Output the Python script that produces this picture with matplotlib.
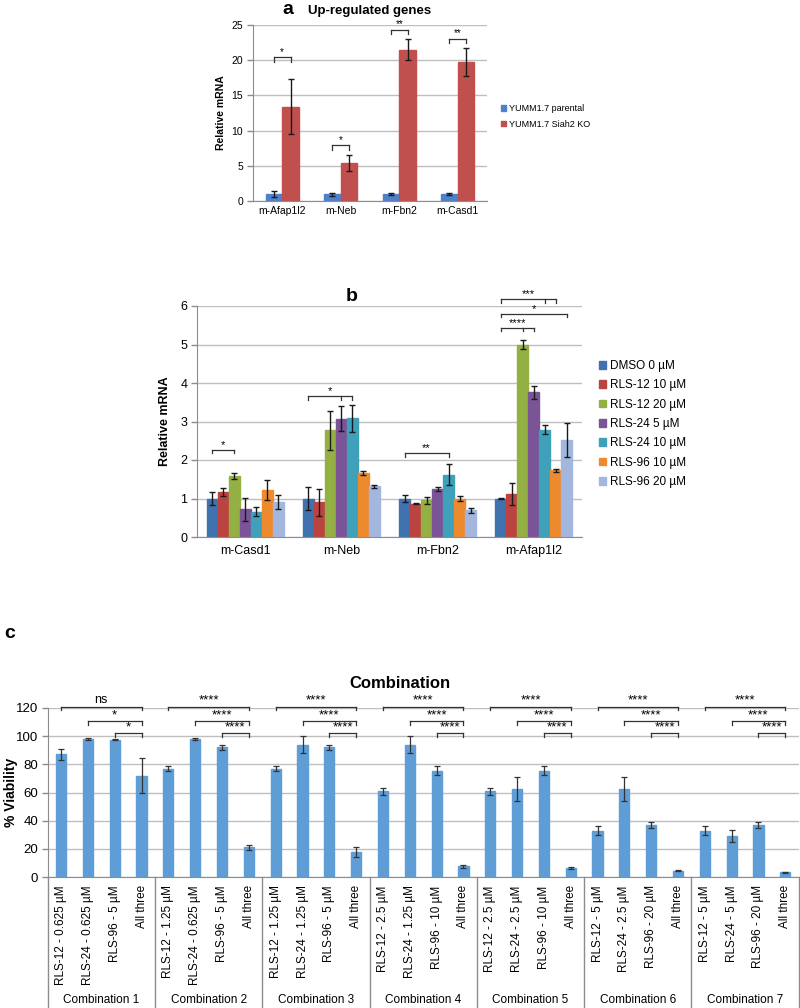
import matplotlib
matplotlib.use("Agg")
import matplotlib.pyplot as plt
from matplotlib.patches import Patch
from matplotlib.transforms import blended_transform_factory
import numpy as np

plt.rcParams['font.family'] = ['Liberation Sans', 'DejaVu Sans']

# ---- panel a data ----
genes_a = ['m-Afap1l2', 'm-Neb', 'm-Fbn2', 'm-Casd1']
parental = [1.0, 0.95, 1.0, 1.0]
parental_err = [0.4, 0.2, 0.15, 0.15]
siah2_ko = [13.4, 5.4, 21.5, 19.8]
siah2_ko_err = [3.9, 1.1, 1.5, 2.0]
sig_a_levels = [20.4, 7.9, 24.3, 23.0]
sig_a_text = ['*', '*', '**', '**']

# ---- panel b data ----
genes_b = ['m-Casd1', 'm-Neb', 'm-Fbn2', 'm-Afap1l2']
treatments = ['DMSO 0 µM', 'RLS-12 10 µM', 'RLS-12 20 µM', 'RLS-24 5 µM',
              'RLS-24 10 µM', 'RLS-96 10 µM', 'RLS-96 20 µM']
colors_b = ['#4172B0', '#BB4440', '#94B045', '#7A5496', '#3FA0B9', '#EE8A2E', '#A3B7DE']
# rows = treatment, columns = gene
vals_b = [
    [1.00, 1.00, 1.00, 1.00],
    [1.17, 0.90, 0.87, 1.12],
    [1.58, 2.77, 0.95, 5.00],
    [0.72, 3.07, 1.25, 3.76],
    [0.66, 3.08, 1.62, 2.79],
    [1.23, 1.66, 1.00, 1.73],
    [0.91, 1.32, 0.69, 2.52],
]
errs_b = [
    [0.17, 0.30, 0.08, 0.02],
    [0.10, 0.35, 0.01, 0.28],
    [0.07, 0.50, 0.10, 0.12],
    [0.30, 0.32, 0.06, 0.17],
    [0.12, 0.34, 0.28, 0.12],
    [0.26, 0.06, 0.06, 0.04],
    [0.18, 0.04, 0.07, 0.44],
]
# (gene index, bar indices with ticks, level, label)
sig_b = [
    (0, [0, 2], 2.27, '*'),
    (1, [0, 3, 4], 3.65, '*'),
    (2, [0, 4], 2.17, '**'),
    (3, [0, 2, 3], 5.42, '****'),
    (3, [0, 6], 5.80, '*'),
    (3, [0, 4, 5], 6.17, '***'),
]

# ---- panel c data ----
combos = ['Combination %d' % i for i in range(1, 8)]
drug_labels = [
    ['RLS-12 - 0.625 µM', 'RLS-24 - 0.625 µM', 'RLS-96 - 5 µM', 'All three'],
    ['RLS-12 - 1.25 µM', 'RLS-24 - 0.625 µM', 'RLS-96 - 5 µM', 'All three'],
    ['RLS-12 - 1.25 µM', 'RLS-24 - 1.25 µM', 'RLS-96 - 5 µM', 'All three'],
    ['RLS-12 - 2.5 µM', 'RLS-24 - 1.25 µM', 'RLS-96 - 10 µM', 'All three'],
    ['RLS-12 - 2.5 µM', 'RLS-24 - 2.5 µM', 'RLS-96 - 10 µM', 'All three'],
    ['RLS-12 - 5 µM', 'RLS-24 - 2.5 µM', 'RLS-96 - 20 µM', 'All three'],
    ['RLS-12 - 5 µM', 'RLS-24 - 5 µM', 'RLS-96 - 20 µM', 'All three'],
]
viability = [
    [87, 98, 97.5, 72],
    [77, 98, 92, 21],
    [77, 94, 92, 18],
    [61, 94, 75.5, 7.5],
    [61, 62.5, 75.5, 6.5],
    [33, 62.5, 37, 4.5],
    [33, 29, 37, 3.3],
]
viability_err = [
    [4, 0.5, 0.5, 12.5],
    [2, 0.5, 2, 2],
    [2, 6, 2, 3.5],
    [2.5, 6, 3, 0.8],
    [2.5, 8.5, 3, 0.8],
    [3, 8.5, 2, 0.5],
    [3, 4.5, 2, 0.5],
]
sig_c = [
    ['ns', '*', '*'],
    ['****', '****', '****'],
    ['****', '****', '****'],
    ['****', '****', '****'],
    ['****', '****', '****'],
    ['****', '****', '****'],
    ['****', '****', '****'],
]

GRID = '#BFBFBF'
AXC = '#8C8C8C'


def excel_style(ax):
    ax.set_axisbelow(True)
    ax.yaxis.grid(True, color=GRID, lw=1)
    for s in ['top', 'right']:
        ax.spines[s].set_visible(False)
    for s in ['left', 'bottom']:
        ax.spines[s].set_color(AXC)
    ax.tick_params(axis='y', length=4, color=AXC, width=1, pad=3)
    ax.tick_params(axis='x', length=0)


def bracket(ax, xs, y, drop, text, fs, tpad):
    x0, x1 = min(xs), max(xs)
    ax.plot([x0, x1], [y, y], color='#333333', lw=0.9, clip_on=False)
    for xt in xs:
        ax.plot([xt, xt], [y, y - drop], color='#333333', lw=0.9, clip_on=False)
    ax.text((x0 + x1) / 2, y + tpad, text, ha='center', va='bottom', fontsize=fs, clip_on=False)


fig = plt.figure(figsize=(8, 10.08), dpi=100)
H = 1008.0
W = 800.0

# ---------------- panel a ----------------
axa = fig.add_axes([253 / W, 1 - 201 / H, 234 / W, 176 / H])
excel_style(axa)
xa = np.arange(len(genes_a))
wa = 0.286
axa.bar(xa - wa / 2, parental, wa, color='#4F81C9', edgecolor='#4F81C9')
axa.bar(xa + wa / 2, siah2_ko, wa, color='#C0504D', edgecolor='#C0504D')
ekw = dict(fmt='none', ecolor='#1a1a1a', elinewidth=1, capsize=2.5, capthick=1)
axa.errorbar(xa - wa / 2, parental, yerr=parental_err, **ekw)
axa.errorbar(xa + wa / 2, siah2_ko, yerr=siah2_ko_err, **ekw)
axa.set_xlim(-0.5, 3.5)
axa.set_ylim(0, 25)
axa.set_yticks(range(0, 26, 5))
axa.set_xticks(xa)
axa.set_xticklabels(genes_a, fontsize=7.5)
axa.tick_params(axis='y', labelsize=7.5)
axa.set_ylabel('Relative mRNA', fontsize=7.5, fontweight='bold', labelpad=4)
axa.set_title('Up-regulated genes', fontsize=9.5, fontweight='bold', pad=8)
for i in range(len(genes_a)):
    bracket(axa, [i - wa / 2, i + wa / 2], sig_a_levels[i], 0.6, sig_a_text[i], 7, 0.1)
fig.legend(handles=[Patch(color='#4F81C9', label='YUMM1.7 parental'),
                    Patch(color='#C0504D', label='YUMM1.7 Siah2 KO')],
           loc='upper left', bbox_to_anchor=(501 / W, 1 - 104 / H), frameon=False,
           fontsize=6.5, handlelength=0.6, handleheight=0.6, handletextpad=0.3,
           labelspacing=0.75, borderaxespad=0, borderpad=0)
fig.text(288 / W, 1 - 10 / H, 'a', fontsize=14, fontweight='bold', ha='center', va='center')

# ---------------- panel b ----------------
axb = fig.add_axes([197 / W, 1 - 537 / H, 385 / W, 231 / H])
excel_style(axb)
xb = np.arange(len(genes_b))
nb = len(treatments)
wb = 0.8 / nb
offs = [(k - (nb - 1) / 2) * wb for k in range(nb)]
for k in range(nb):
    axb.bar(xb + offs[k], vals_b[k], wb, color=colors_b[k], edgecolor=colors_b[k], label=treatments[k])
    axb.errorbar(xb + offs[k], vals_b[k], yerr=errs_b[k], **ekw)
axb.set_xlim(-0.5, 3.5)
axb.set_ylim(0, 6)
axb.set_yticks(range(0, 7))
axb.set_xticks(xb)
axb.set_xticklabels(genes_b, fontsize=9)
axb.tick_params(axis='x', pad=6)
axb.tick_params(axis='y', labelsize=9)
axb.set_ylabel('Relative mRNA', fontsize=9, fontweight='bold', labelpad=7)
for g, bars, lvl, txt in sig_b:
    bracket(axb, [g + offs[b] for b in bars], lvl, 0.08, txt, 8, 0.0)
fig.legend([Patch(color=c) for c in colors_b], treatments,
           loc='upper left', bbox_to_anchor=(599 / W, 1 - 360 / H), frameon=False,
           fontsize=8.5, handlelength=0.6, handleheight=0.6, handletextpad=0.3,
           labelspacing=0.62, borderaxespad=0, borderpad=0)
fig.text(352 / W, 1 - 296 / H, 'b', fontsize=14, fontweight='bold', ha='center', va='center')

# ---------------- panel c ----------------
axc = fig.add_axes([47.7 / W, 1 - 877 / H, 751 / W, 169 / H])
excel_style(axc)
vals_c = [v for grp in viability for v in grp]
errs_c = [e for grp in viability_err for e in grp]
labels_c = [l for grp in drug_labels for l in grp]
xc = np.arange(len(vals_c))
axc.bar(xc, vals_c, 0.38, color='#5E9DD6', edgecolor='#5E9DD6')
axc.errorbar(xc, vals_c, yerr=errs_c, fmt='none', ecolor='#333333', elinewidth=0.9,
             capsize=2.5, capthick=0.9)
axc.set_xlim(-0.5, len(vals_c) - 0.5)
axc.set_ylim(0, 120)
axc.set_yticks(range(0, 121, 20))
axc.tick_params(axis='y', labelsize=9.5)
axc.set_xticks(xc)
axc.set_xticklabels(labels_c, rotation=90, fontsize=8.5, va='top')
axc.tick_params(axis='x', pad=6)
axc.set_ylabel('% Viability', fontsize=10, fontweight='bold', labelpad=0)
axc.yaxis.set_label_coords(-0.040, 0.5)
trc = blended_transform_factory(axc.transData, axc.transAxes)
for g in range(len(combos) + 1):
    xs = 4 * g - 0.5
    axc.plot([xs, xs], [0, -0.78], color=AXC, lw=1, transform=trc, clip_on=False)
for g, name in enumerate(combos):
    axc.text(4 * g + 1.5, -0.728, name, transform=trc, ha='center', va='center', fontsize=8.5)
    b0 = 4 * g
    fs = 9 if sig_c[g][0] == 'ns' else 9.5
    bracket(axc, [b0, b0 + 3], 121.0, 2.5, sig_c[g][0], fs, 0.2)
    bracket(axc, [b0 + 1, b0 + 3], 110.6, 2.5, sig_c[g][1], 9.5, 0.2)
    bracket(axc, [b0 + 2, b0 + 3], 101.9, 2.5, sig_c[g][2], 9.5, 0.2)
fig.text(400 / W, 1 - 684 / H, 'Combination', fontsize=12, fontweight='bold', ha='center', va='center')
fig.text(10 / W, 1 - 633 / H, 'c', fontsize=14, fontweight='bold', ha='center', va='center')

fig.savefig('out.png', dpi=100)
